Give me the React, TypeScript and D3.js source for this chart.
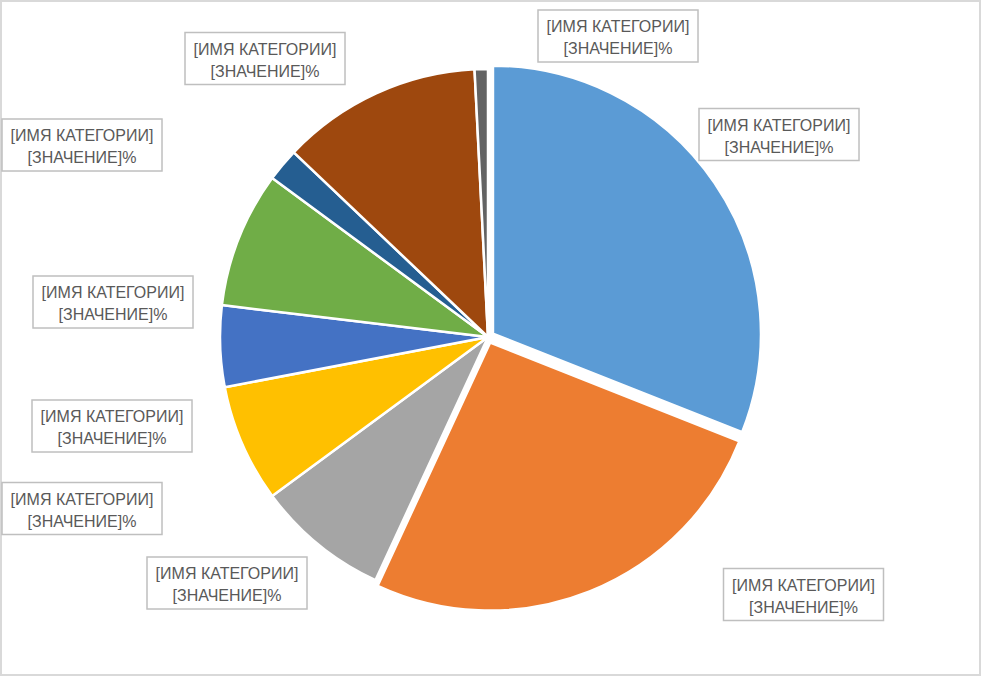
import React from "react";
import * as d3 from "d3";

const categories = ["Кат1", "Кат2", "Кат3", "Кат4", "Кат5", "Кат6", "Кат7", "Кат8", "Кат9"];
const values = [31.0, 25.9, 8.0, 7.1, 4.9, 8.2, 2.0, 12.1, 0.8];
const colors = ["#5B9BD5", "#ED7D31", "#A5A5A5", "#FFC000", "#4472C4", "#70AD47", "#255E91", "#9E480E", "#636363"];
const exploded = [6, 6, 0, 0, 0, 0, 0, 0, 0];
const labelLine1 = "[ИМЯ КАТЕГОРИИ]";
const labelLine2 = "[ЗНАЧЕНИЕ]%";
// label box centres (layout)
const labelCenters: [number, number][] = [
  [779, 134.5],
  [803.5, 594.5],
  [227, 583],
  [82, 508.5],
  [112, 426],
  [113, 302],
  [82, 145],
  [265, 58.5],
  [618, 36],
];

const W = 982;
const H = 677;
const CX = 488;
const CY = 337;
const R = 268;

export default function App() {
  const pie = d3.pie<number>().sort(null).value((d) => d);
  const arcs = pie(values);
  const arc = d3.arc<d3.PieArcDatum<number>>().innerRadius(0).outerRadius(R);
  const boxW = 160;
  const boxH = 52;

  return (
    <div style={{ position: "absolute", left: 0, top: 0 }}>
      <svg width={W} height={H} style={{ display: "block" }}>
        <rect x={0} y={0} width={W} height={H} fill="#fff" />
        <rect x={1} y={1} width={979} height={674} fill="none" stroke="#D9D9D9" strokeWidth={2} />
        <g transform={`translate(${CX},${CY})`}>
          {arcs.map((a, i) => {
            const mid = (a.startAngle + a.endAngle) / 2;
            const off = exploded[i];
            const dx = Math.sin(mid) * off;
            const dy = -Math.cos(mid) * off;
            return (
              <path
                key={categories[i]}
                d={arc(a) || ""}
                transform={`translate(${dx},${dy})`}
                fill={colors[i]}
                stroke="#fff"
                strokeWidth={2.5}
                strokeLinejoin="round"
              />
            );
          })}
        </g>
        {labelCenters.map(([x, y], i) => (
          <g key={"l" + i} transform={`translate(${x},${y})`}>
            <rect
              x={-boxW / 2}
              y={-boxH / 2}
              width={boxW}
              height={boxH}
              fill="#fff"
              stroke="#BFBFBF"
              strokeWidth={1.5}
            />
            <text
              x={0}
              y={-4}
              textAnchor="middle"
              fontFamily="'Liberation Sans', Arial, sans-serif"
              fontSize={16}
              fill="#595959"
            >
              {labelLine1}
            </text>
            <text
              x={0}
              y={18}
              textAnchor="middle"
              fontFamily="'Liberation Sans', Arial, sans-serif"
              fontSize={16}
              fill="#595959"
            >
              {labelLine2}
            </text>
          </g>
        ))}
      </svg>
    </div>
  );
}
